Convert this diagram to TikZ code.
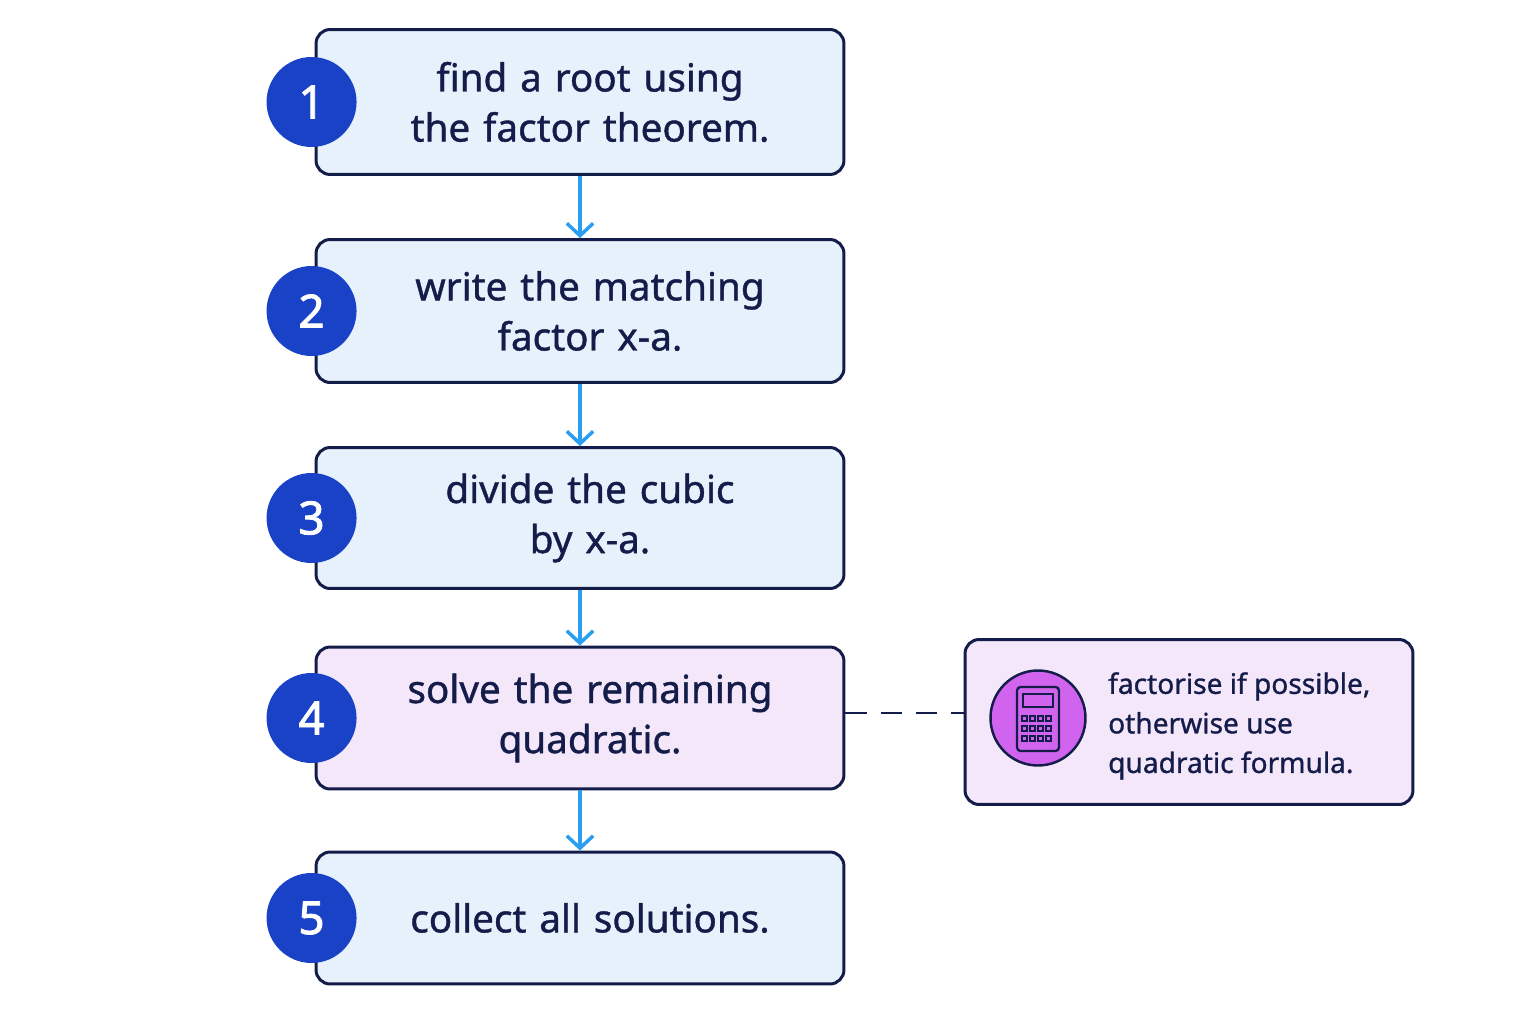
\documentclass[tikz,border=0pt]{standalone}
\usepackage{fontspec}
\setmainfont{Noto Sans}
\newfontfamily\heavy{Noto Sans}[FakeBold=2]
\newfontfamily\medium{Noto Sans}[FakeBold=1]
\usepackage{xcolor}
\usetikzlibrary{arrows.meta,positioning,calc}
\definecolor{navy}{HTML}{141C4A}
\definecolor{stepblue}{HTML}{E7F1FC}
\definecolor{steppink}{HTML}{F5E7FA}
\definecolor{dotblue}{HTML}{1942C6}
\definecolor{arrowblue}{HTML}{2A9EF0}
\definecolor{iconpink}{HTML}{D164EE}
\begin{document}
\begin{tikzpicture}[
    x=0.02cm, y=-0.02cm,
    stepbox/.style={rectangle, draw=navy, fill=stepblue, line width=1.7pt, minimum width=10.56cm, rounded corners=8pt, text centered, align=center, font=\medium\fontsize{22}{28.5}\selectfont, text=navy, text width=10cm},
    num/.style={circle, fill=dotblue, text=white, minimum size=1.8cm, font=\heavy\fontsize{26}{26}\selectfont},
    arrow/.style={-{Straight Barb[length=7pt,width=15pt]}, arrowblue, line width=2pt}
]
    \useasboundingbox (0,0) rectangle (1536,1024);
    % Steps
    \node[stepbox, minimum height=2.9cm] (find) at (580,102) {\hspace*{0.4cm}find a root using\\\hspace*{0.4cm}the factor theorem.};
    \node[stepbox, minimum height=2.86cm] (write) at (580,311) {\hspace*{0.4cm}write the matching\\\hspace*{0.4cm}factor x-a.};
    \node[stepbox, minimum height=2.82cm] (divide) at (580,518) {\hspace*{0.4cm}divide the cubic\\\hspace*{0.4cm}by x-a.};
    \node[stepbox, fill=steppink, minimum height=2.84cm] (solve) at (580,718) {\hspace*{0.4cm}solve the remaining\\\hspace*{0.4cm}quadratic.};
    \node[stepbox, minimum height=2.64cm] (collect) at (580,918) {\hspace*{0.4cm}collect all solutions.};

    % Numbers
    \foreach \s/\n in {find/1, write/2, divide/3, solve/4, collect/5}
        \node[num] (n\n) at ($(\s.west)+(-3,0)$) {\n};

    % Arrows
    \draw[arrow] (find) -- (write);
    \draw[arrow] (write) -- (divide);
    \draw[arrow] (divide) -- (solve);
    \draw[arrow] (solve) -- (collect);

    % Note
    \node[rectangle, draw=navy, fill=steppink, line width=1.7pt, rounded corners=8pt, minimum width=8.96cm, minimum height=3.3cm] (note) at (1189,722) {};
    \node[anchor=west, align=left, text=navy, font=\medium\fontsize{16}{22.5}\selectfont] (tip) at (1102,726) {factorise if possible,\\otherwise use\\quadratic formula.};
    \draw[navy, line width=1.7pt, dash pattern=on 12pt off 8pt] ($(solve.east)+(0,-5)$) -- ($(note.west |- solve.east)+(0,-5)$);

    % Calculator icon
    \node[circle, draw=navy, fill=iconpink, line width=1.4pt, minimum size=1.9cm] (calc) at (1038,718) {};
    \draw[navy, line width=1.3pt, rounded corners=2pt] (1017,687) rectangle (1059,751);
    \draw[navy, line width=1.1pt] (1023,694) rectangle (1053,707);
    \foreach \i in {0,1,2,3}
        \foreach \j in {0,1,2}
            \draw[navy, line width=0.9pt] (1022+\i*8,716+\j*10) rectangle ++(5,5);
\end{tikzpicture}
\end{document}
